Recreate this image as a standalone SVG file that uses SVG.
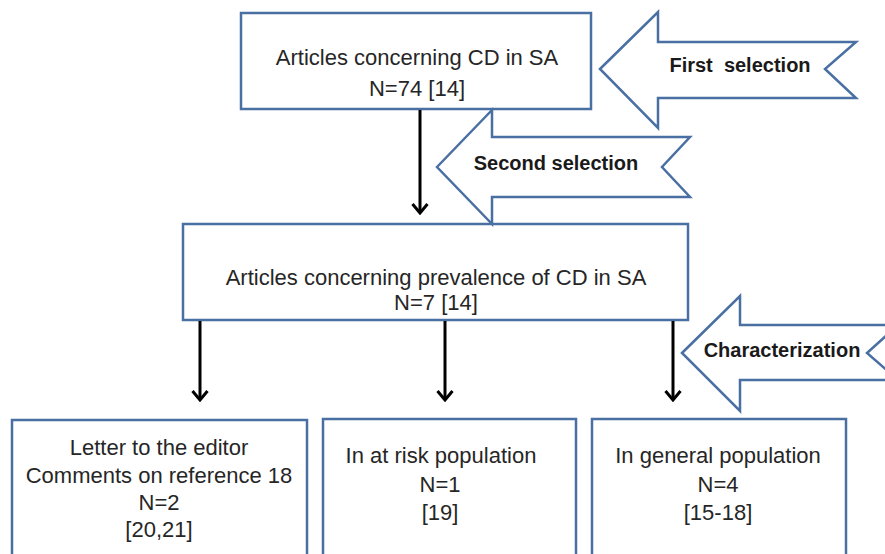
<svg xmlns="http://www.w3.org/2000/svg" width="885" height="554" viewBox="0 0 885 554">
  <style>
    .box { fill: #ffffff; stroke: #4a6fa3; stroke-width: 2.5; }
    .big { fill: #ffffff; stroke: #4a6fa3; stroke-width: 2.5; stroke-linejoin: miter; }
    .t { font-family: "Liberation Sans", Arial, sans-serif; font-size: 22px; fill: #262626; text-anchor: middle; }
    .b { font-family: "Liberation Sans", Arial, sans-serif; font-size: 20px; font-weight: bold; fill: #1a1a1a; text-anchor: middle; }
    .conn { stroke: #000000; stroke-width: 3; fill: none; }
  </style>
  <defs>
    <marker id="ah" viewBox="0 0 12 18" refX="10.5" refY="9" markerWidth="12" markerHeight="18" markerUnits="userSpaceOnUse" orient="auto">
      <polyline points="1.5,1.5 10.5,9 1.5,16.5" fill="none" stroke="#000" stroke-width="3" stroke-linejoin="miter"/>
    </marker>
  </defs>
  <rect width="885" height="554" fill="#ffffff"/>

  <g id="node-top">
    <rect class="box" x="241" y="13" width="350" height="96"/>
    <text class="t" x="417" y="65">Articles concerning CD in SA</text>
    <text class="t" x="417" y="96">N=74 [14]</text>
  </g>

  <g id="node-middle">
    <rect class="box" x="183" y="224" width="505" height="96"/>
    <text class="t" x="436" y="285">Articles concerning prevalence of CD in SA</text>
    <text class="t" x="436" y="310">N=7 [14]</text>
  </g>

  <g id="node-letter">
    <rect class="box" x="12" y="420" width="295" height="150"/>
    <text class="t" x="159" y="455">Letter to the editor</text>
    <text class="t" x="159" y="483">Comments on reference 18</text>
    <text class="t" x="159" y="510">N=2</text>
    <text class="t" x="159" y="537">[20,21]</text>
  </g>

  <g id="node-risk">
    <rect class="box" x="323" y="419" width="253" height="150"/>
    <text class="t" x="441" y="463">In at risk population</text>
    <text class="t" x="440" y="492">N=1</text>
    <text class="t" x="440" y="520">[19]</text>
  </g>

  <g id="node-general">
    <rect class="box" x="592" y="419" width="254" height="150"/>
    <text class="t" x="718" y="463">In general population</text>
    <text class="t" x="718" y="492">N=4</text>
    <text class="t" x="718" y="520">[15-18]</text>
  </g>

  <g id="arrow-first">
    <polygon class="big" points="600,69 658,12 658,42 856,42 825,69 856,98 658,98 658,128"/>
    <text class="b" x="740" y="72" xml:space="preserve">First  selection</text>
  </g>

  <g id="arrow-second">
    <polygon class="big" points="437,167 492,110 492,137 690,137 662,167 690,197 492,197 492,224"/>
    <text class="b" x="556" y="170">Second selection</text>
  </g>

  <g id="arrow-characterization">
    <polygon class="big" points="682,353 740,296 740,325 898,325 867,353 898,380 740,380 740,411"/>
    <text class="b" x="782" y="357">Characterization</text>
  </g>

  <g id="connectors">
    <line class="conn" x1="420" y1="110" x2="420" y2="213" marker-end="url(#ah)"/>
    <line class="conn" x1="200" y1="321" x2="200" y2="400" marker-end="url(#ah)"/>
    <line class="conn" x1="445" y1="321" x2="445" y2="400" marker-end="url(#ah)"/>
    <line class="conn" x1="673" y1="321" x2="673" y2="400" marker-end="url(#ah)"/>
  </g>
</svg>
